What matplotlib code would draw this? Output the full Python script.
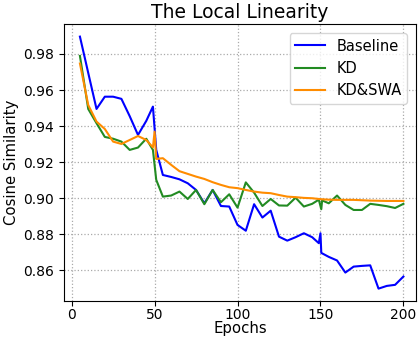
import numpy as np
import matplotlib
matplotlib.use("Agg")
import matplotlib.pyplot as plt

# Baseline
base_ep = [5, 10, 15, 20, 25, 30, 35, 40, 45, 49, 51, 55, 60, 65, 70, 75, 80, 85, 90, 95,
           100, 105, 110, 115, 120, 125, 130, 135, 140, 145, 149, 150, 150.5, 155, 160,
           165, 170, 175, 180, 185, 190, 195, 200]
base_val = [0.9896, 0.9695, 0.9495, 0.9563, 0.9563, 0.9551, 0.9455, 0.9351, 0.9429, 0.9508,
            0.9268, 0.9129, 0.9118, 0.9105, 0.9083, 0.9046, 0.8972, 0.9046, 0.8957, 0.8954,
            0.8852, 0.8820, 0.8967, 0.8893, 0.8931, 0.8787, 0.8765, 0.8784, 0.8806, 0.8784,
            0.8751, 0.8806, 0.8697, 0.8675, 0.8655, 0.8588, 0.8621, 0.8625, 0.8628, 0.8499,
            0.8514, 0.8520, 0.8566]

# KD
kd_ep = [5, 10, 15, 20, 25, 30, 35, 40, 45, 49, 51, 55, 60, 65, 70, 75, 80, 85, 90, 95,
         100, 105, 110, 115, 120, 125, 130, 135, 140, 145, 149, 150.5, 151, 155, 160,
         165, 170, 175, 180, 185, 190, 195, 200]
kd_val = [0.9789, 0.9495, 0.9416, 0.9340, 0.9330, 0.9314, 0.9268, 0.9281, 0.9330, 0.9268,
          0.9102, 0.9009, 0.9015, 0.9037, 0.8996, 0.9046, 0.8967, 0.9046, 0.8978, 0.9022,
          0.8948, 0.9088, 0.9031, 0.8957, 0.8996, 0.8960, 0.8959, 0.9003, 0.8954, 0.8969,
          0.8992, 0.8939, 0.8988, 0.8972, 0.9015, 0.8963, 0.8935, 0.8935, 0.8969, 0.8963,
          0.8956, 0.8946, 0.8969]

# KD&SWA
swa_ep = [5, 10, 15, 20, 25, 30, 35, 40, 45, 49, 50, 51, 55, 60, 65, 70, 75, 80, 85, 90,
          95, 100, 105, 110, 115, 120, 125, 130, 135, 140, 145, 150, 155, 160, 165, 170,
          175, 180, 185, 190, 195, 200]
swa_val = [0.9747, 0.9517, 0.9425, 0.9384, 0.9314, 0.9301, 0.9323, 0.9345, 0.9323, 0.9282,
           0.9369, 0.9218, 0.9222, 0.9185, 0.9150, 0.9135, 0.9120, 0.9107, 0.9089, 0.9074,
           0.9061, 0.9056, 0.9046, 0.9037, 0.9031, 0.9028, 0.9018, 0.9009, 0.9006, 0.9002,
           0.9000, 0.8995, 0.8992, 0.8991, 0.8991, 0.8991, 0.8989, 0.8987, 0.8986, 0.8985,
           0.8985, 0.8985]

fig = plt.figure(figsize=(4.2, 3.37), dpi=100)
ax = fig.add_axes([0.1524, 0.1077, 0.8381, 0.8211])

ax.plot(base_ep, base_val, color='blue', lw=1.5, label='Baseline')
ax.plot(kd_ep, kd_val, color='forestgreen', lw=1.5, label='KD')
ax.plot(swa_ep, swa_val, color='darkorange', lw=1.5, label='KD&SWA')

ax.set_xlim(-4.6, 207.6)
ax.set_ylim(0.8432, 0.9966)
ax.set_xticks([0, 50, 100, 150, 200])
ax.set_yticks([0.86, 0.88, 0.90, 0.92, 0.94, 0.96, 0.98])
ax.grid(True, linestyle=':', color='#aaaaaa', lw=0.9)
ax.tick_params(labelsize=10)
ax.tick_params(axis='x', pad=2)

ax.set_title('The Local Linearity', fontsize=13.5, pad=4)
ax.set_xlabel('Epochs', fontsize=10.7, labelpad=-1)
ax.set_ylabel('Cosine Similarity', fontsize=10.7, labelpad=3)
ax.legend(loc='upper right', fontsize=10.5, borderaxespad=0.6)

fig.savefig('out.png', dpi=100)
